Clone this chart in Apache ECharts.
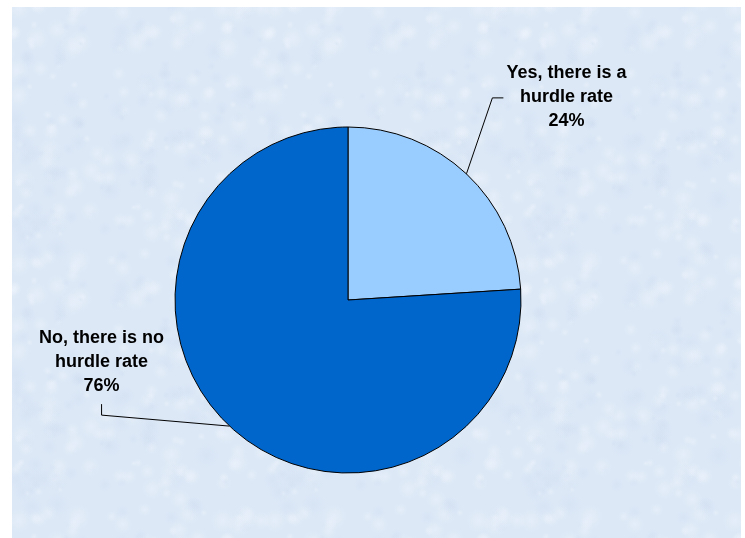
<!DOCTYPE html>
<html>
<head>
<meta charset="utf-8">
<script src="https://cdn.jsdelivr.net/npm/echarts@6/dist/echarts.min.js"></script>
<style>
  html, body { margin: 0; padding: 0; background: #ffffff; }
  #chart { position: absolute; left: 12px; top: 7px; width: 729px; height: 531px; }
</style>
</head>
<body>
<div id="chart"></div>
<script>
// Survey answers: is there a hurdle rate?
const categories = ['Yes, there is a\nhurdle rate', 'No, there is no\nhurdle rate'];
const shares = [24, 76];
const sliceColors = ['#99CCFF', '#0066CC'];

// Label centre offsets from each slice's leader anchor
const labelOffsets = [[100, -77], [-128, -64]];

// Faint mottled paper texture for the chart background (seamless tile)
function makePaperTexture() {
  const size = 256;
  const c = document.createElement('canvas');
  c.width = size; c.height = size;
  const ctx = c.getContext('2d');
  ctx.fillStyle = '#dce8f6';
  ctx.fillRect(0, 0, size, size);
  let s = 98765;
  const rnd = () => { s = (s * 16807) % 2147483647; return s / 2147483647; };
  for (let k = 0; k < 260; k++) {
    const x = rnd() * size, y = rnd() * size, r = 3 + rnd() * 10;
    const light = rnd() > 0.45;
    const col = light ? '244,248,255' : '200,216,238';
    const a = light ? 0.35 : 0.25;
    for (let dx = -size; dx <= size; dx += size) {
      for (let dy = -size; dy <= size; dy += size) {
        const gx = x + dx, gy = y + dy;
        if (gx + r < 0 || gx - r > size || gy + r < 0 || gy - r > size) continue;
        const g = ctx.createRadialGradient(gx, gy, 0, gx, gy, r);
        g.addColorStop(0, 'rgba(' + col + ',' + a + ')');
        g.addColorStop(1, 'rgba(' + col + ',0)');
        ctx.fillStyle = g;
        ctx.beginPath(); ctx.arc(gx, gy, r, 0, Math.PI * 2); ctx.fill();
      }
    }
  }
  return c;
}

const chart = echarts.init(document.getElementById('chart'), null, { renderer: 'canvas' });

chart.setOption({
  backgroundColor: { image: makePaperTexture(), repeat: 'repeat' },
  animation: false,
  series: [{
    type: 'pie',
    center: [336, 293],
    radius: [0, 173],
    startAngle: 90,
    clockwise: true,
    silent: true,
    data: categories.map((name, i) => ({
      name: name,
      value: shares[i],
      itemStyle: { color: sliceColors[i] }
    })),
    itemStyle: { borderColor: '#000000', borderWidth: 1 },
    label: {
      show: true,
      position: 'outside',
      formatter: '{b}\n{c}%',
      fontFamily: 'Liberation Sans, Arial, sans-serif',
      fontWeight: 'bold',
      fontSize: 18,
      lineHeight: 24,
      color: '#000000',
      align: 'center'
    },
    labelLine: {
      show: true,
      length: 20,
      length2: 10,
      lineStyle: { color: '#000000', width: 1 }
    },
    labelLayout: function (params) {
      const i = params.dataIndex;
      const p0 = params.labelLinePoints[0];
      const off = labelOffsets[i];
      const cx = p0[0] + off[0];
      const cy = p0[1] + off[1];
      const w = params.labelRect.width;
      const h = params.labelRect.height;
      let pts;
      if (i === 0) {
        // bend up to the left side of the label, then a short horizontal run
        const ex = cx - w / 2 - 3;
        pts = [p0, [ex - 11, cy + 1], [ex, cy + 1]];
      } else {
        // run out to below the label, then a short vertical tick
        const by = cy + h / 2 + 6;
        pts = [p0, [cx, by + 11], [cx, by]];
      }
      return {
        x: cx,
        y: cy,
        align: 'center',
        verticalAlign: 'middle',
        labelLinePoints: pts
      };
    }
  }]
});
</script>
</body>
</html>
